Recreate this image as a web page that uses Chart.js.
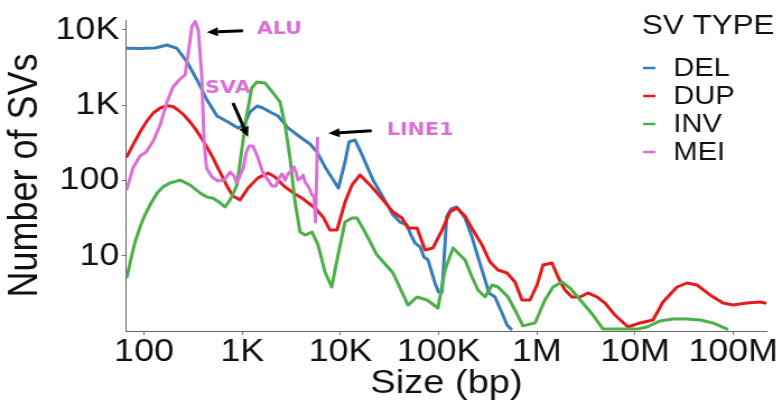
<!DOCTYPE html>
<html>
<head>
<meta charset="utf-8">
<title>Number of SVs by size</title>
<script src="https://cdn.jsdelivr.net/npm/chart.js@4/dist/chart.umd.min.js"></script>
<style>
  html, body { margin: 0; padding: 0; background: #fff; }
  #wrap { width: 782px; height: 408px; overflow: hidden; }
  /* the figure is drawn 698px wide and widened to 782px, like the exported plot */
  #sv-chart { transform: scaleX(1.1203); transform-origin: 0 0; }
</style>
</head>
<body>
<div id="wrap"><canvas id="sv-chart" width="698" height="408"></canvas></div>
<script>
/* size-distribution of structural variants, log-log, one line per SV type */

const SERIES = ['DEL', 'DUP', 'INV', 'MEI'];

const X_TICKS = [1e2, 1e3, 1e4, 1e5, 1e6, 1e7, 1e8];
const X_TICK_LABELS = ['100', '1K', '10K', '100K', '1M', '10M', '100M'];
const Y_TICKS = [10, 100, 1000, 10000];
const Y_TICK_LABELS = ['10', '100', '1K', '10K'];

/* deletions */
const DEL_SIZE = [67, 91, 129, 171, 217, 274, 347, 438, 554, 717, 906, 1043, 1200, 1415, 1629,
  1919, 2317, 2926, 3879, 4898, 5781, 6966, 8204, 9528, 11140, 12240, 14090, 16980, 21480,
  27160, 34360, 40460, 47640, 51170, 57540, 64710, 70960, 77980, 91830, 99770, 108400,
  120800, 133700, 152800, 185800, 218800, 251800, 297200, 325800, 375000, 442600, 497700, 545800];
const DEL_COUNT = [5680, 5650, 5730, 6280, 5650, 3735, 2154, 1169, 716, 597, 497, 544, 810, 973, 915,
  810, 716, 497, 377, 304, 238, 151, 108, 79, 176, 324, 344, 205, 101,
  60, 34.7, 28, 25.6, 20, 14.7, 13.1, 9.6, 8.8, 4.34, 3.3, 3.3,
  32.7, 41.7, 44.3, 31.7, 17.7, 9.6, 4.76, 3.2, 2.83, 1.73, 1.2, 1.06];

/* duplications */
const DUP_SIZE = [67, 77, 91, 107, 124, 146, 171, 197, 222, 255, 294, 339, 390, 449, 505, 567, 637,
  717, 806, 950, 1146, 1449, 1832, 2158, 2729, 3451, 4064, 5510, 6653, 7834, 9229, 11140,
  13120, 15850, 20000, 27160, 34360, 42370, 48750, 60260, 72780, 87700, 108400, 130600,
  153800, 185800, 223900, 276700, 333400, 402700, 497700, 599800, 706300, 853100, 1005000,
  1156000, 1429000, 1644000, 1936000, 2280000, 2754000, 3321000, 4102000, 4955000, 6252000,
  8492000, 11250000, 15240000, 19280000, 26790000, 33880000, 42760000, 58080000, 78700000,
  99540000, 138400000, 187500000, 210800000];
const DUP_COUNT = [208, 295, 439, 615, 785, 915, 982, 958, 861, 739, 597, 467, 355, 261, 198, 146, 108,
  79, 62, 55, 79, 108, 125, 111, 82, 66, 58, 43, 32.7, 21.9, 21.9, 51.6,
  87, 118, 87, 55, 38, 31.7, 23.3, 23.3, 11.9, 12.7, 21.9, 38,
  43, 33.7, 21.9, 13.9, 8.25, 6.46, 5.89, 4.48, 2.58, 2.58, 4.08,
  7.52, 8.0, 5.21, 3.5, 2.83, 2.83, 3.2, 2.83, 2.35, 1.63,
  1.13, 1.28, 1.4, 2.43, 3.84, 4.34, 4.08, 3.01, 2.35,
  2.21, 2.35, 2.43, 2.35];

/* inversions */
const INV_SIZE = [67, 74, 81, 91, 102, 118, 136, 156, 184, 233, 294, 372, 438, 505, 581, 668, 769,
  885, 995, 1112, 1250, 1406, 1707, 2060, 2427, 2729, 3067, 3451, 3879, 4363, 5140, 5915,
  6966, 8150, 9462, 11140, 13120, 14760, 17820, 23600, 34360, 48750, 60260, 76210, 98630,
  116100, 140300, 185800, 218800, 251800, 297200, 349900, 402700, 509300, 599800, 722800,
  959400, 1211000, 1462000, 1807000, 2178000, 2884000, 3733000, 4721000, 7031000, 10470000,
  13240000, 17990000, 24380000, 33880000, 45920000, 62230000, 86500000];
const INV_COUNT = [5.21, 9.32, 15.2, 24, 34.7, 50.1, 68, 82, 92.3, 101, 87, 68, 60, 58, 51.6, 44.3, 58,
  87, 269, 739, 1687, 2027, 1965, 1448, 1099, 544, 198, 51.6, 20.6, 18.8, 20.6, 13.9,
  6.08, 3.84, 10.2, 28, 31.7, 31.7, 20.6, 10.2, 5.89, 2.21, 2.83, 2.58, 2.02,
  6.46, 12.7, 8.8, 5.21, 3.5, 2.83, 4.08, 3.84, 2.83, 1.9, 1.17,
  1.28, 2.58, 3.84, 4.48, 3.72, 2.43, 1.63, 1.06, 1.06, 1.06,
  1.13, 1.36, 1.44, 1.44, 1.4, 1.28, 1.06];

/* mobile element insertions */
const MEI_SIZE = [67, 77, 91, 105, 124, 146, 170, 197, 233, 262, 287, 308, 331, 357, 387, 408, 433,
  492, 567, 653, 751, 826, 875, 927, 1026, 1094, 1173, 1288, 1449, 1629, 1832, 2011, 2208,
  2371, 2543, 2729, 2926, 3140, 3367, 3531, 3698, 3970, 4159, 4363, 4677, 4898, 5140, 5383,
  5575, 5848];
const MEI_COUNT = [76.9, 146, 211, 238, 334, 544, 1066, 1738, 2221, 2512, 5730, 11220, 12880, 9940, 2512, 344, 146,
  111, 98.2, 101, 129, 114, 92.3, 108, 146, 231, 286, 286, 198, 125, 101, 84.3, 84.3,
  108, 122, 101, 122, 133, 151, 129, 101, 108, 118, 95.2, 84.3, 74.6, 64, 62,
  28, 366];

const COLORS = { DEL: '#377eb8', DUP: '#e41a1c', INV: '#4daf4a', MEI: '#da70d6' };
const FONT = '"Liberation Sans", Arial, Helvetica, sans-serif';
const INK = '#111111';

const sizes = { DEL: DEL_SIZE, DUP: DUP_SIZE, INV: INV_SIZE, MEI: MEI_SIZE };
const counts = { DEL: DEL_COUNT, DUP: DUP_COUNT, INV: INV_COUNT, MEI: MEI_COUNT };

/* ALU / SVA / LINE1 labels with their arrows, placed in data units */
const callouts = {
  id: 'callouts',
  afterDatasetsDraw(chart) {
    const { ctx, scales: { x, y } } = chart;
    const notes = [
      { text: 'ALU',   at: [1405, 10250], from: [1019, 9730], to: [435, 9270] },
      { text: 'SVA',   at: [418, 1687],   from: [806, 1066],  to: [1146, 377] },
      { text: 'LINE1', at: [29600, 467],  from: [20840, 457], to: [7530, 422] }
    ];
    ctx.save();
    ctx.font = 'bold 18.5px "DejaVu Sans", Verdana, sans-serif';
    ctx.textBaseline = 'middle';
    ctx.textAlign = 'left';
    notes.forEach((n) => {
      ctx.fillStyle = COLORS.MEI;
      ctx.fillText(n.text, x.getPixelForValue(n.at[0]), y.getPixelForValue(n.at[1]));

      const x1 = x.getPixelForValue(n.from[0]), y1 = y.getPixelForValue(n.from[1]);
      const x2 = x.getPixelForValue(n.to[0]),   y2 = y.getPixelForValue(n.to[1]);
      const ang = Math.atan2(y2 - y1, x2 - x1);
      const head = 10, half = 4.5;
      const bx = x2 - head * Math.cos(ang), by = y2 - head * Math.sin(ang);
      ctx.strokeStyle = '#000';
      ctx.fillStyle = '#000';
      ctx.lineWidth = 3;
      ctx.lineCap = 'butt';
      ctx.beginPath();
      ctx.moveTo(x1, y1);
      ctx.lineTo(bx, by);
      ctx.stroke();
      ctx.beginPath();
      ctx.moveTo(x2, y2);
      ctx.lineTo(bx + half * Math.sin(ang), by - half * Math.cos(ang));
      ctx.lineTo(bx - half * Math.sin(ang), by + half * Math.cos(ang));
      ctx.closePath();
      ctx.fill();
    });
    ctx.restore();
  }
};

/* ggplot-style key in the top-right corner */
const svLegend = {
  id: 'svLegend',
  afterDraw(chart) {
    const ctx = chart.ctx;
    ctx.save();
    ctx.fillStyle = INK;
    ctx.textBaseline = 'middle';
    ctx.textAlign = 'left';
    ctx.font = '28px ' + FONT;
    ctx.fillText('SV TYPE', 573, 26);
    ctx.font = '26px ' + FONT;
    SERIES.forEach((name, i) => {
      const yy = 68 + i * 28;
      ctx.strokeStyle = COLORS[name];
      ctx.lineWidth = 2.5;
      ctx.beginPath();
      ctx.moveTo(574, yy);
      ctx.lineTo(585, yy);
      ctx.stroke();
      ctx.fillText(name, 601, yy + 1);
    });
    ctx.restore();
  }
};

new Chart(document.getElementById('sv-chart'), {
  type: 'line',
  data: {
    datasets: SERIES.map((name, i) => ({
      label: name,
      data: sizes[name].map((s, k) => ({ x: s, y: counts[name][k] })),
      borderColor: COLORS[name],
      backgroundColor: COLORS[name],
      borderWidth: 3,
      borderJoinStyle: 'round',
      borderCapStyle: 'round',
      pointRadius: 0,
      tension: 0,
      fill: false,
      order: SERIES.length - i
    }))
  },
  options: {
    responsive: false,
    devicePixelRatio: 1,
    animation: false,
    layout: { padding: { top: 20, right: 13.4, left: 0, bottom: 0 } },
    plugins: {
      legend: { display: false },
      tooltip: { enabled: false }
    },
    scales: {
      x: {
        type: 'logarithmic',
        min: 65.6,
        max: 2.208e8,
        afterBuildTicks: (s) => { s.ticks = X_TICKS.map((v) => ({ value: v })); },
        afterFit: (s) => { s.height = 77; },
        grid: { drawOnChartArea: false, drawTicks: true, tickLength: 4, color: '#777' },
        border: { display: true, color: '#666', width: 1 },
        ticks: {
          autoSkip: false,
          maxRotation: 0,
          padding: 1,
          color: INK,
          font: { family: FONT, size: 32, lineHeight: 1 },
          callback: (v, i) => X_TICK_LABELS[i]
        },
        title: {
          display: true,
          text: 'Size (bp)',
          color: INK,
          font: { family: FONT, size: 34, lineHeight: 1.2 },
          padding: { top: 0, bottom: 4 }
        }
      },
      y: {
        type: 'logarithmic',
        min: 1,
        max: 13490,
        afterBuildTicks: (s) => { s.ticks = Y_TICKS.map((v) => ({ value: v })); },
        afterFit: (s) => { s.width = 112.5; },
        grid: { drawOnChartArea: false, drawTicks: true, tickLength: 4, color: '#777' },
        border: { display: true, color: '#666', width: 1 },
        ticks: {
          autoSkip: false,
          padding: 2,
          color: INK,
          font: { family: FONT, size: 32, lineHeight: 1 },
          callback: (v, i) => Y_TICK_LABELS[i]
        },
        title: {
          display: true,
          text: 'Number of SVs',
          color: INK,
          font: { family: FONT, size: 36, lineHeight: 1.2 },
          padding: { top: 1, bottom: 0 }
        }
      }
    }
  },
  plugins: [callouts, svLegend]
});
</script>
</body>
</html>
